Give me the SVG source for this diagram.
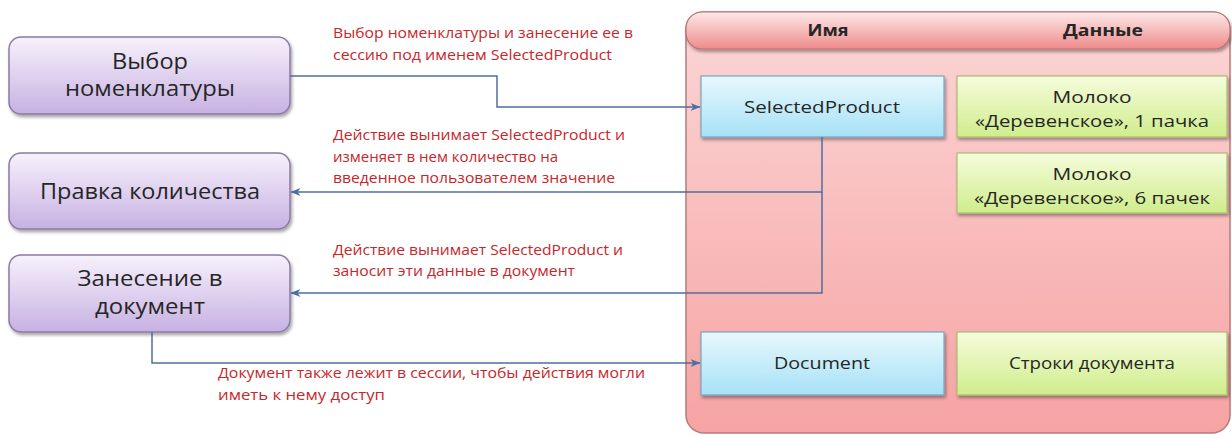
<svg xmlns="http://www.w3.org/2000/svg" width="1232" height="435" viewBox="0 0 1232 435">
<style>
.node rect{stroke:#8a7aa4;stroke-width:1.5}
.nt{font-family:"Open Sans","Noto Sans","Liberation Sans",sans-serif;font-size:21px;fill:#262626;text-anchor:middle}
.rt{font-family:"Open Sans","Noto Sans","Liberation Sans",sans-serif;font-size:14px;fill:#c8262a}
.bt{font-family:"Open Sans","Noto Sans","Liberation Sans",sans-serif;font-size:16px;fill:#262626;text-anchor:middle}
.ht{font-family:"Open Sans","Noto Sans","Liberation Sans",sans-serif;font-size:16px;font-weight:bold;fill:#262626;text-anchor:middle}
.conn{fill:none;stroke:#4d6f9f;stroke-width:1.5}
</style>
<defs>
<linearGradient id="gP" x1="0" y1="0" x2="0" y2="1"><stop offset="0" stop-color="#f7f1fc"/><stop offset="1" stop-color="#c7b1e2"/></linearGradient>
<linearGradient id="gB" x1="0" y1="0" x2="0" y2="1"><stop offset="0" stop-color="#e8f8fd"/><stop offset="1" stop-color="#a6e1f6"/></linearGradient>
<linearGradient id="gG" x1="0" y1="0" x2="0" y2="1"><stop offset="0" stop-color="#f6fcdc"/><stop offset="1" stop-color="#cfed8c"/></linearGradient>
<linearGradient id="gC" x1="0" y1="0" x2="0" y2="1"><stop offset="0" stop-color="#fcd6d6"/><stop offset="1" stop-color="#f6a3a3"/></linearGradient>
<linearGradient id="gH" x1="0" y1="0" x2="0" y2="1"><stop offset="0" stop-color="#fde9e9"/><stop offset="1" stop-color="#ef8b8b"/></linearGradient>
<filter id="sh" x="-10%" y="-10%" width="120%" height="130%"><feDropShadow dx="1.5" dy="2.5" stdDeviation="1.5" flood-color="#000" flood-opacity="0.35"/></filter>
<marker id="ar" viewBox="0 0 10 8" refX="9.5" refY="4" markerWidth="10" markerHeight="8" markerUnits="userSpaceOnUse" orient="auto"><path d="M0,0 L10,4 L0,8 L3,4 z" fill="#4d6f9f"/></marker>
</defs>
<rect width="1232" height="435" fill="#fff"/>

<g id="session">
<rect x="686" y="12" width="544" height="421" rx="18" fill="url(#gC)" stroke="#b87a7a" stroke-width="1.5"/>
<rect x="686" y="12" width="544" height="37" rx="16" fill="url(#gH)" stroke="#b77070" stroke-width="1.2" filter="url(#sh)"/>
<text class="ht" x="828" y="36" textLength="41" lengthAdjust="spacingAndGlyphs">Имя</text>
<text class="ht" x="1103" y="36" textLength="80" lengthAdjust="spacingAndGlyphs">Данные</text>
</g>

<g id="n-select" class="node">
<rect x="9" y="37" width="281" height="77" rx="12" fill="url(#gP)" filter="url(#sh)"/>
<text class="nt" x="150" y="69" textLength="76" lengthAdjust="spacingAndGlyphs">Выбор</text>
<text class="nt" x="150" y="96" textLength="170" lengthAdjust="spacingAndGlyphs">номенклатуры</text>
</g>
<g id="n-edit" class="node">
<rect x="9" y="153" width="281" height="76" rx="12" fill="url(#gP)" filter="url(#sh)"/>
<text class="nt" x="150" y="199" textLength="220" lengthAdjust="spacingAndGlyphs">Правка количества</text>
</g>
<g id="n-doc" class="node">
<rect x="9" y="255" width="281" height="77" rx="12" fill="url(#gP)" filter="url(#sh)"/>
<text class="nt" x="150" y="286" textLength="145" lengthAdjust="spacingAndGlyphs">Занесение в</text>
<text class="nt" x="150" y="314" textLength="110" lengthAdjust="spacingAndGlyphs">документ</text>
</g>

<g id="k-selected">
<rect x="701" y="76" width="243" height="61" fill="url(#gB)" stroke="#78a4c0" stroke-width="1.2" filter="url(#sh)"/>
<text class="bt" x="822" y="113" textLength="156" lengthAdjust="spacingAndGlyphs">SelectedProduct</text>
</g>
<g id="v-milk1">
<rect x="957" y="76" width="270" height="61" fill="url(#gG)" stroke="#a8bc6e" stroke-width="1.2" filter="url(#sh)"/>
<text class="bt" x="1092" y="103" textLength="79" lengthAdjust="spacingAndGlyphs">Молоко</text>
<text class="bt" x="1092" y="127" textLength="234" lengthAdjust="spacingAndGlyphs">«Деревенское», 1 пачка</text>
</g>
<g id="v-milk6">
<rect x="957" y="153" width="270" height="60" fill="url(#gG)" stroke="#a8bc6e" stroke-width="1.2" filter="url(#sh)"/>
<text class="bt" x="1092" y="180" textLength="79" lengthAdjust="spacingAndGlyphs">Молоко</text>
<text class="bt" x="1092" y="204" textLength="236" lengthAdjust="spacingAndGlyphs">«Деревенское», 6 пачек</text>
</g>
<g id="k-document">
<rect x="701" y="332" width="243" height="63" fill="url(#gB)" stroke="#78a4c0" stroke-width="1.2" filter="url(#sh)"/>
<text class="bt" x="822" y="369" textLength="96" lengthAdjust="spacingAndGlyphs">Document</text>
</g>
<g id="v-rows">
<rect x="957" y="332" width="270" height="63" fill="url(#gG)" stroke="#a8bc6e" stroke-width="1.2" filter="url(#sh)"/>
<text class="bt" x="1092" y="369" textLength="166" lengthAdjust="spacingAndGlyphs">Строки документа</text>
</g>

<g id="connectors">
<path class="conn" d="M290,76 H497 V107 H700" marker-end="url(#ar)"/>
<path class="conn" d="M822,137 V192 H291" marker-end="url(#ar)"/>
<path class="conn" d="M822,192 V293 H291" marker-end="url(#ar)"/>
<path class="conn" d="M152,332 V363 H700" marker-end="url(#ar)"/>
</g>

<g id="labels">
<text class="rt" x="333" y="38" textLength="300" lengthAdjust="spacingAndGlyphs">Выбор номенклатуры и занесение ее в</text>
<text class="rt" x="333" y="60" textLength="279" lengthAdjust="spacingAndGlyphs">сессию под именем SelectedProduct</text>
<text class="rt" x="333" y="140" textLength="292" lengthAdjust="spacingAndGlyphs">Действие вынимает SelectedProduct и</text>
<text class="rt" x="333" y="162" textLength="225" lengthAdjust="spacingAndGlyphs">изменяет в нем количество на</text>
<text class="rt" x="333" y="183" textLength="282" lengthAdjust="spacingAndGlyphs">введенное пользователем значение</text>
<text class="rt" x="333" y="255" textLength="290" lengthAdjust="spacingAndGlyphs">Действие вынимает SelectedProduct и</text>
<text class="rt" x="333" y="276" textLength="242" lengthAdjust="spacingAndGlyphs">заносит эти данные в документ</text>
<text class="rt" x="218" y="378" textLength="427" lengthAdjust="spacingAndGlyphs">Документ также лежит в сессии, чтобы действия могли</text>
<text class="rt" x="218" y="400" textLength="167" lengthAdjust="spacingAndGlyphs">иметь к нему доступ</text>
</g>
</svg>
